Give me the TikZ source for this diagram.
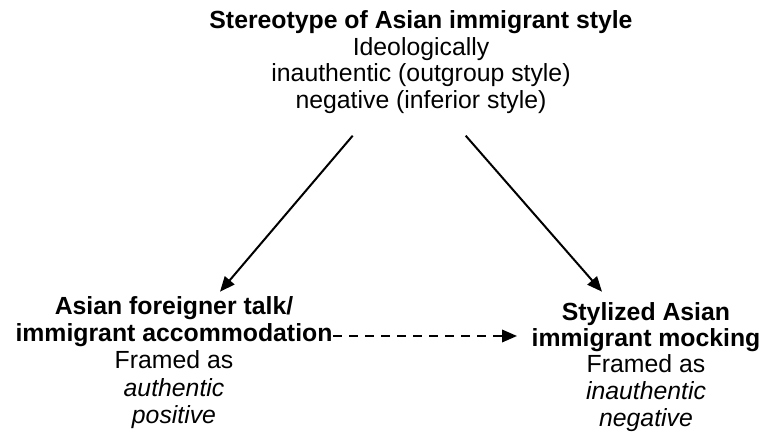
\documentclass[tikz,border=0pt]{standalone}
\usepackage{fontspec}
\setmainfont{Liberation Sans}
\usetikzlibrary{arrows.meta}
\tikzset{
  txt/.style={anchor=base, inner sep=0pt, font=\fontsize{24.8}{28}\selectfont},
  hd/.style={txt, font=\fontsize{24.8}{28}\selectfont\bfseries},
  it/.style={txt, font=\fontsize{24.8}{28}\selectfont\itshape},
  link/.style={line width=2pt, -{Triangle[length=15pt,width=12.5pt]}},
  dlink/.style={link, dash pattern=on 9pt off 7pt}
}
\begin{document}
\begin{tikzpicture}[x=1pt,y=1pt]
\useasboundingbox (0,0) rectangle (763,443);
% top block
\node[hd]  (t1) at (421,414.5) {Stereotype of Asian immigrant style};
\node[txt] (t2) at (421,387.5) {Ideologically};
\node[txt] (t3) at (421,361)   {inauthentic (outgroup style)};
\node[txt] (t4) at (421,334)   {negative (inferior style)};
% left block
\node[hd]  (l1) at (174,128)   {Asian foreigner talk/};
\node[hd]  (l2) at (174,101.3) {immigrant accommodation};
\node[txt] (l3) at (174,74.7)  {Framed as};
\node[it]  (l4) at (174,46.3)  {authentic};
\node[it]  (l5) at (174,19.7)  {positive};
% right block
\node[hd]  (r1) at (646,122.3) {Stylized Asian};
\node[hd]  (r2) at (646,96.3)  {immigrant mocking};
\node[txt] (r3) at (646,70)    {Framed as};
\node[it]  (r4) at (646,43)    {inauthentic};
\node[it]  (r5) at (646,16.3)  {negative};
% connector ends
\coordinate (ls) at (352.7,307.3);
\coordinate (le) at (220,151.3);
\coordinate (rs) at (465.7,307.3);
\coordinate (re) at (602,151.3);
\coordinate (ds) at (333,107);
\coordinate (de) at (517,107);
\draw[link] (ls) -- (le);
\draw[link] (rs) -- (re);
\draw[dlink] (ds) -- (de);
\end{tikzpicture}
\end{document}
